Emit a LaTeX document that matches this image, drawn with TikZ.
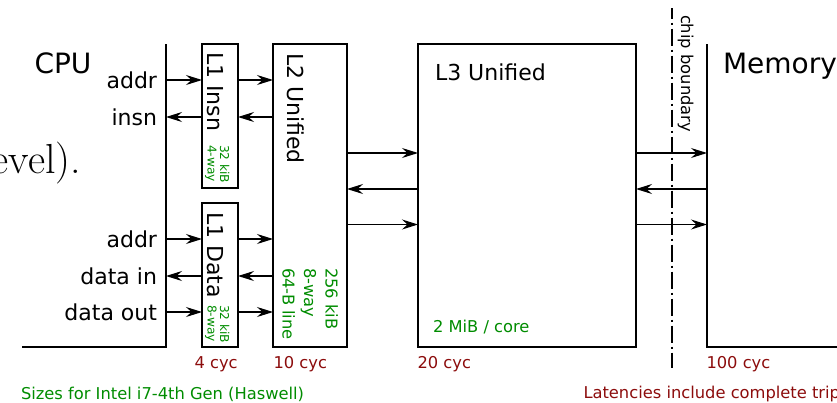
\documentclass[tikz,border=0pt]{standalone}
\usepackage{fontspec}
\newfontfamily\dv{DejaVu Sans}
\usetikzlibrary{arrows.meta}
\definecolor{sizegreen}{RGB}{0,140,0}
\definecolor{latred}{RGB}{140,12,12}

\begin{document}
\begin{tikzpicture}[x=1pt,y=-1pt,
  every node/.style={inner sep=0pt, outer sep=0pt},
  box/.style={draw, line width=2pt, rectangle, outer sep=0pt},
  edge/.style={line width=2pt},
  arr/.style={line width=1.1pt, -{Stealth[length=16pt,width=10pt,inset=5.5pt]}},
  big/.style={font=\dv\fontsize{28}{34}\selectfont, anchor=base west},
  mid/.style={font=\dv\fontsize{22}{26}\selectfont, anchor=base west},
  sig/.style={font=\dv\fontsize{22}{26}\selectfont, anchor=east},
  vlbl/.style={font=\dv\fontsize{22}{26}\selectfont, rotate=-90, anchor=base west},
  tinysize/.style={font=\dv\fontsize{12.2}{12.5}\selectfont, text=sizegreen, rotate=-90,
    anchor=north west, align=left},
  vsize/.style={font=\dv\fontsize{16.3}{21.5}\selectfont, text=sizegreen, rotate=-90,
    anchor=north west, align=left},
  hsize/.style={font=\dv\fontsize{16.3}{20}\selectfont, text=sizegreen, anchor=base west},
  lat/.style={font=\dv\fontsize{16.3}{20}\selectfont, text=latred, anchor=base west},
  boundary/.style={line width=1.5pt, dash pattern=on 17pt off 4pt on 2pt off 4pt, dash phase=6.6pt}
]
\useasboundingbox (0,0) rectangle (837,402);
\clip (0,0) rectangle (837,402);

% running text of the page behind the figure
\node[font=\fontsize{42}{50}\selectfont, anchor=base east] (prose) at (81,173) {evel).};

% CPU side
\node[big] (cpuname) at (34.5,73) {CPU};
\coordinate (cpu) at (166,44);
\coordinate (cpuB) at (166,347);
\coordinate (cpuL) at (22,347);
\draw[edge] (cpuL) -- (cpuB) -- (cpu);

\node[sig] (sA1) at (157,80) {addr};
\node[sig] (sI)  at (157,117) {insn};
\node[sig] (sA2) at (157,239) {addr};
\node[sig] (sDi) at (157,276) {data in};
\node[sig] (sDo) at (157,312) {data out};

% cache boxes
\node[box, minimum width=36pt, minimum height=144pt] (L1I) at (220,116) {};
\node[box, minimum width=36pt, minimum height=144pt] (L1D) at (220,275) {};
\node[box, minimum width=74pt, minimum height=303pt] (L2) at (310,195.5) {};
\node[box, minimum width=218pt, minimum height=303pt] (L3) at (527,195.5) {};

\node[vlbl] (tL1I) at (207,52) {L1 Insn};
\node[tinysize] (zL1I) at (229.5,145) {32 kiB\\4-way};
\node[vlbl] (tL1D) at (207,212) {L1 Data};
\node[tinysize] (zL1D) at (229.5,305) {32 kiB\\8-way};
\node[vlbl] (tL2) at (287,53) {L2 Unified};
\node[vsize] (zL2) at (338,268) {256 kiB\\8-way\\64-B line};
\node[mid] (tL3) at (435,80) {L3 Unified};
\node[hsize] (zL3) at (433,332.5) {2 MiB / core};

% memory
\coordinate (mem) at (707,44);
\coordinate (memB) at (707,347);
\coordinate (memR) at (845,347);
\draw[edge] (mem) -- (memB) -- (memR);
\node[big] (memname) at (723,73) {Memory};

% chip boundary
\coordinate (cbTop) at (672,8.3);
\coordinate (cbBot) at (672,368);
\draw[boundary] (cbTop) -- (cbBot);
\node[font=\dv\fontsize{16.3}{20}\selectfont, rotate=-90, anchor=base west] (cbname) at (681,15) {chip boundary};

% row levels between L2, L3 and memory
\coordinate (r1) at (0,153);
\coordinate (r2) at (0,189);
\coordinate (r3) at (0,224.5);

% CPU <-> L1
\draw[arr] (cpu |- sA1) -- (L1I.west |- sA1);
\draw[arr] (L1I.west |- sI) -- (cpu |- sI);
\draw[arr] (cpu |- sA2) -- (L1D.west |- sA2);
\draw[arr] (L1D.west |- sDi) -- (cpu |- sDi);
\draw[arr] (cpu |- sDo) -- (L1D.west |- sDo);

% L1 <-> L2
\draw[arr] (L1I.east |- sA1) -- (L2.west |- sA1);
\draw[arr] (L2.west |- sI) -- (L1I.east |- sI);
\draw[arr] (L1D.east |- sA2) -- (L2.west |- sA2);
\draw[arr] (L2.west |- sDi) -- (L1D.east |- sDi);
\draw[arr] (L1D.east |- sDo) -- (L2.west |- sDo);

% L2 <-> L3
\draw[arr] (L2.east |- r1) -- (L3.west |- r1);
\draw[arr] (L3.west |- r2) -- (L2.east |- r2);
\draw[arr] (L2.east |- r3) -- (L3.west |- r3);

% L3 <-> memory
\draw[arr] (L3.east |- r1) -- (mem |- r1);
\draw[arr] (mem |- r2) -- (L3.east |- r2);
\draw[arr] (L3.east |- r3) -- (mem |- r3);

% latencies
\node[lat] (c1) at (194.5,368) {4 cyc};
\node[lat] (c2) at (273.5,368) {10 cyc};
\node[lat] (c3) at (417.5,368) {20 cyc};
\node[lat] (c4) at (706.5,368) {100 cyc};

\node[hsize] (sizes) at (21,399) {Sizes for Intel i7-4th Gen (Haswell)};
\node[lat] (latnote) at (583.5,398) {Latencies include complete trip};
\end{tikzpicture}
\end{document}
